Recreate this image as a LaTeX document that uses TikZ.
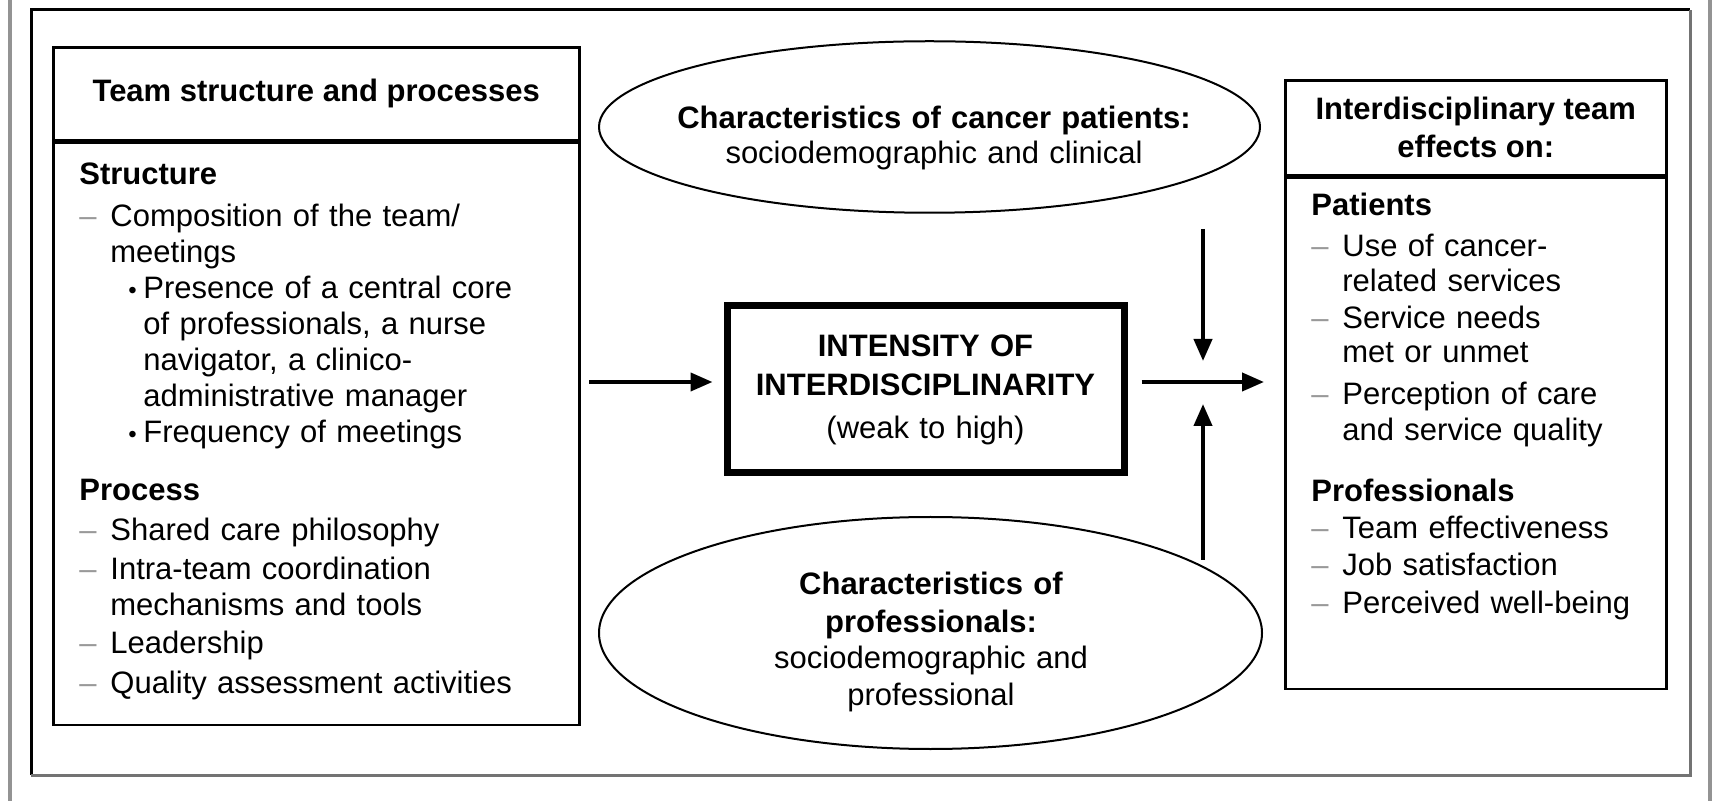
\documentclass[tikz,border=0pt]{standalone}
\usepackage{fontspec}
\setmainfont{Liberation Sans}
\usetikzlibrary{arrows.meta,shapes.geometric,positioning}
\definecolor{dashgray}{gray}{0.6}
\newcommand{\itemdash}{\makebox[15.5pt][l]{\textcolor{dashgray}{–}}}
\newcommand{\itemdot}{\hspace*{24.5pt}\makebox[7.5pt][l]{\fontsize{12}{12}\selectfont\textbullet}}
\newcommand{\indentone}{\hspace*{15.5pt}}
\newcommand{\indenttwo}{\hspace*{32pt}}
\begin{document}
\begin{tikzpicture}[x=.5pt,y=-.5pt,font=\fontsize{15.5}{18.5}\selectfont,
  box/.style={draw,line width=1.3pt,inner sep=0pt},
  oval/.style={draw,ellipse,line width=1pt,inner sep=0pt},
  txt/.style={inner sep=0pt,anchor=base,align=center,text width=#1},
  arr/.style={line width=2pt,-{Triangle[length=11pt,width=9pt]}}]
  \useasboundingbox (0,0) rectangle (1713,801);
  \draw[gray!85,line width=2pt] (9.5,0) -- (9.5,801) (1710,0) -- (1710,801);%outer edges
  \draw[line width=1.5pt] (31,775) |- (1690,10);%frame top/left
  \draw[gray!90!black,line width=1.5pt] (31,775) -| (1690,10);%frame bottom/right
  % team structure and processes
  \node[box,minimum width=263pt,minimum height=46.5pt,anchor=north west] (teamhead) at (52,46)
    {\bfseries Team structure and processes};
  \node[box,minimum width=263pt,minimum height=291pt,below=0pt of teamhead] (teambody) {};
  \node[txt=240pt,align=left,anchor=base west] (teamlist) at (79,185) {%
    \textbf{Structure}\\[2.5pt]
    \itemdash Composition of the team/\\[-.5pt]
    \indentone meetings\\[-.5pt]
    \itemdot Presence of a central core\\[-.5pt]
    \indenttwo of professionals, a nurse\\[-.5pt]
    \indenttwo navigator, a clinico-\\[-.5pt]
    \indenttwo administrative manager\\[-.5pt]
    \itemdot Frequency of meetings\\[10.5pt]
    \textbf{Process}\\[1.5pt]
    \itemdash Shared care philosophy\\[1pt]
    \itemdash Intra-team coordination\\[-.5pt]
    \indentone mechanisms and tools\\[.5pt]
    \itemdash Leadership\\[1.5pt]
    \itemdash Quality assessment activities};
  % intensity
  \node[draw,line width=3.5pt,minimum width=198.5pt,minimum height=83.5pt,inner sep=0pt] (intensity) at (925.5,389.5) {};
  \node[txt=200pt] (intensitytext) at (925.5,357)
    {\bfseries INTENSITY OF\\[1pt] INTERDISCIPLINARITY\\[3pt] \mdseries (weak to high)};
  % characteristics
  \node[oval,minimum width=330.5pt,minimum height=85.75pt] (patients) at (929.5,127) {};
  \node[txt=300pt] (patientstext) at (934,129)
    {\textbf{Characteristics of cancer patients:}\\[-1pt] sociodemographic and clinical};
  \node[oval,minimum width=331.5pt,minimum height=116pt] (profs) at (930.5,633) {};
  \node[txt=300pt] (profstext) at (931,595)
    {\textbf{Characteristics of}\\[.5pt] \textbf{professionals:}\\[-.5pt] sociodemographic and\\ professional};
  % effects
  \node[box,minimum width=190.5pt,minimum height=47.5pt,anchor=north west,align=center] (effectshead) at (1284,79)
    {\textbf{Interdisciplinary team}\\[.5pt] \textbf{effects on:}};
  \node[box,minimum width=190.5pt,minimum height=255.5pt,below=0pt of effectshead] (effectsbody) {};
  \node[txt=172pt,align=left,anchor=base west] (effectslist) at (1311,216) {%
    \textbf{Patients}\\[2pt]
    \itemdash Use of cancer-\\[-1pt]
    \indentone related services\\[0pt]
    \itemdash Service needs\\[-1.5pt]
    \indentone met or unmet\\[2.5pt]
    \itemdash Perception of care\\[-.5pt]
    \indentone and service quality\\[12pt]
    \textbf{Professionals}\\[0pt]
    \itemdash Team effectiveness\\[0pt]
    \itemdash Job satisfaction\\[.5pt]
    \itemdash Perceived well-being};
  % arrows
  \coordinate (meet) at (1203,382);
  \coordinate (patfoot) at (1203,229);
  \coordinate (proftop) at (1203,560);
  \draw[arr,shorten <=4.3pt,shorten >=5.5pt] (teambody.east |- meet) -- (intensity.west |- meet);
  \draw[arr,shorten <=7pt,shorten >=10pt] (intensity.east |- meet) -- (effectsbody.west |- meet);
  \draw[arr,shorten >=10.5pt] (patfoot) -- (meet);
  \draw[arr,shorten >=11pt] (proftop) -- (meet);
\end{tikzpicture}
\end{document}
